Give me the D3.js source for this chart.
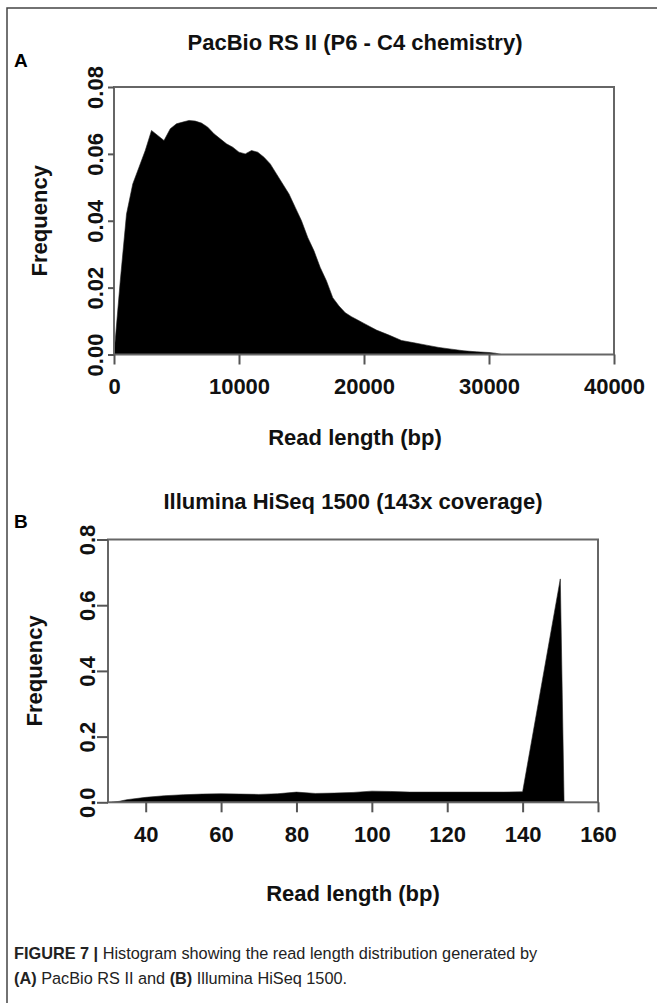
<!DOCTYPE html>
<html><head><meta charset="utf-8">
<script src="https://cdn.jsdelivr.net/npm/d3@7"></script>
<style>body{margin:0;background:#fff}svg{display:block}</style>
</head><body>
<script>
// Panel A: PacBio read length distribution
const lenA = [0,500,1000,1500,2000,2500,3000,3500,4000,4500,5000,5500,6000,6500,7000,7500,8000,8500,9000,9500,10000,10500,11000,11500,12000,12500,13000,13500,14000,14500,15000,15500,16000,16500,17000,17500,18000,18500,19000,19500,20000,21000,22000,23000,24000,25000,26000,27000,28000,29000,30000,30500,31000];
const freqA = [0,0.022,0.042,0.051,0.056,0.061,0.067,0.0655,0.064,0.0675,0.069,0.0695,0.070,0.0698,0.0692,0.068,0.066,0.0645,0.063,0.062,0.0605,0.060,0.061,0.0605,0.059,0.057,0.054,0.051,0.048,0.044,0.040,0.035,0.031,0.026,0.022,0.017,0.0145,0.0125,0.0113,0.0103,0.0093,0.0073,0.0058,0.0042,0.0035,0.0028,0.0021,0.0016,0.0011,0.0008,0.0006,0.0004,0];
const xTicksA = [0,10000,20000,30000,40000];
const yTicksA = [0,0.02,0.04,0.06,0.08];
// Panel B: Illumina read length distribution
const lenB = [31,33,35,40,45,50,55,60,65,70,75,80,85,90,95,100,105,110,115,120,125,130,135,140,150,151];
const freqB = [0,0.003,0.008,0.015,0.020,0.023,0.025,0.026,0.025,0.024,0.026,0.031,0.027,0.028,0.030,0.034,0.033,0.031,0.031,0.031,0.031,0.031,0.031,0.032,0.68,0];
const xTicksB = [40,60,80,100,120,140,160];
const yTicksB = [0,0.2,0.4,0.6,0.8];

const W = 657, H = 1003;
const svg = d3.select("body").append("svg").attr("width", W).attr("height", H);
const font = "'Liberation Sans', Arial, sans-serif";
const FS = 22;

// figure frame
svg.append("path").attr("d", `M7,${H} L7,8 L${W},8`).attr("fill","none").attr("stroke","#444").attr("stroke-width",1.5);

function panel(cfg) {
  const x = d3.scaleLinear().domain(cfg.xdom).range([cfg.left, cfg.right]);
  const y = d3.scaleLinear().domain(cfg.ydom).range([cfg.bottom, cfg.top]);
  const g = svg.append("g");
  const area = d3.area().x((d,i)=>x(cfg.xs[i])).y0(y(0)).y1(d=>y(d));
  g.append("path").datum(cfg.ys).attr("d", area).attr("fill","#000").attr("stroke","#222").attr("stroke-width",0.6);
  // box
  g.append("rect").attr("x",cfg.left).attr("y",cfg.top).attr("width",cfg.right-cfg.left).attr("height",cfg.bottom-cfg.top)
    .attr("fill","none").attr("stroke","#666").attr("stroke-width",2);
  // x axis
  const xa = g.append("g").attr("transform",`translate(0,${cfg.bottom})`)
    .call(d3.axisBottom(x).tickValues(cfg.xticks).tickSize(10).tickSizeOuter(0).tickPadding(14).tickFormat(d3.format("d")));
  xa.select(".domain").remove();
  xa.selectAll("line").attr("stroke","#555").attr("stroke-width",2);
  xa.selectAll("text").attr("font-family",font).attr("font-weight","bold").attr("font-size",FS).attr("fill","#111");
  // y axis
  const ya = g.append("g").attr("transform",`translate(${cfg.left},0)`)
    .call(d3.axisLeft(y).tickValues(cfg.yticks).tickSize(cfg.ytick).tickSizeOuter(0).tickFormat(d3.format(cfg.yfmt)));
  ya.select(".domain").remove();
  ya.selectAll("line").attr("stroke","#555").attr("stroke-width",2);
  ya.selectAll("text").attr("font-family",font).attr("font-weight","bold").attr("font-size",FS).attr("fill","#111")
    .attr("x",0).attr("dy",0).attr("text-anchor","middle")
    .attr("transform",`translate(${cfg.ylabX - cfg.left},0) rotate(-90)`);
  // titles
  const txt = (t,xp,yp,size,rot) => {
    const e = g.append("text").text(t).attr("font-family",font).attr("font-weight","bold").attr("font-size",size)
      .attr("fill","#111").attr("text-anchor","middle");
    if (rot) e.attr("transform",`translate(${xp},${yp}) rotate(-90)`); else e.attr("x",xp).attr("y",yp);
  };
  txt(cfg.title, cfg.titleX, cfg.titleY, FS);
  txt("Read length (bp)", cfg.titleX, cfg.xlabY, FS);
  txt("Frequency", cfg.ylabTitleX, (cfg.top+cfg.bottom)/2, FS, true);
  g.append("text").text(cfg.letter).attr("x",14).attr("y",cfg.letterY).attr("font-family",font)
    .attr("font-weight","bold").attr("font-size",19).attr("fill","#000");
}

panel({xs:lenA, ys:freqA, xdom:[0,40000], ydom:[0,0.08], left:114, right:614, top:87, bottom:354.5,
  xticks:xTicksA, yticks:yTicksA, yfmt:".2f", ytick:6, ylabX:103, ylabTitleX:47,
  title:"PacBio RS II (P6 - C4 chemistry)", titleX:355, titleY:50, xlabY:445, letter:"A", letterY:67});
panel({xs:lenB, ys:freqB, xdom:[30,160], ydom:[0,0.8], left:108, right:598, top:539.5, bottom:802.3,
  xticks:xTicksB, yticks:yTicksB, yfmt:".1f", ytick:11, ylabX:95, ylabTitleX:42,
  title:"Illumina HiSeq 1500 (143x coverage)", titleX:353, titleY:509, xlabY:901, letter:"B", letterY:528});

// caption
const cap = svg.append("g").attr("font-family",font).attr("font-size",16.3).attr("fill","#222");
const l1 = cap.append("text").attr("x",14).attr("y",959);
l1.append("tspan").attr("font-weight","bold").text("FIGURE 7 | ");
l1.append("tspan").text("Histogram showing the read length distribution generated by");
const l2 = cap.append("text").attr("x",14).attr("y",984);
l2.append("tspan").attr("font-weight","bold").text("(A)");
l2.append("tspan").text(" PacBio RS II and ");
l2.append("tspan").attr("font-weight","bold").text("(B)");
l2.append("tspan").text(" Illumina HiSeq 1500.");
</script>
</body></html>
